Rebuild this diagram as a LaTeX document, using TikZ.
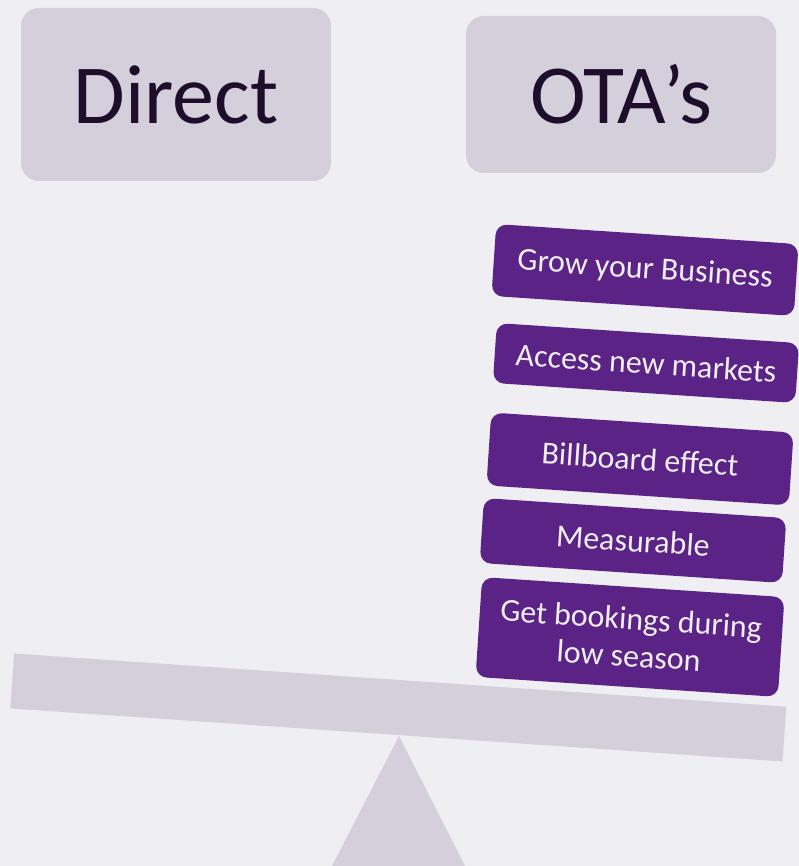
\documentclass[tikz,border=0pt]{standalone}
\usepackage{fontspec}
\setmainfont{Carlito}
\definecolor{pagebg}{HTML}{EFEEF3}
\definecolor{paleplum}{HTML}{D5CFDC}
\definecolor{deepplum}{HTML}{5B2385}
\definecolor{inkplum}{HTML}{1E0E2C}

\begin{document}
\begin{tikzpicture}[x=1pt, y=-1pt,
  heading/.style = {rectangle, fill=paleplum, rounded corners=18pt, minimum width=310pt,
                    text=inkplum, font=\fontsize{84pt}{100pt}\selectfont},
  benefit/.style = {rectangle, fill=deepplum, rounded corners=11pt, minimum width=303pt,
                    inner sep=0pt, align=center, rotate=-3.8, text=pagebg,
                    font=\fontsize{32pt}{37pt}\selectfont}]
  % Background.
  \useasboundingbox [fill=pagebg] (0, 0) rectangle (799, 866);

  % Headings.
  \node at (176, 94.5) [heading, minimum height=173pt, name=Direct] {Direct};
  \node at (621, 94.5) [heading, minimum height=157pt, name=OTAs] {OTA’s};

  % Pivot and beam.
  \fill [paleplum] (399, 736) -- (465, 866) -- (332, 866) -- cycle;
  \node at (398.3, 707.5) [rectangle, fill=paleplum, minimum width=774pt, minimum height=55pt,
                           inner sep=0pt, rotate=-3.93, name=Beam] {};

  % Benefits.
  \node at (645, 270) [benefit, minimum height=72pt, name=Grow] {Grow your Business};
  \node at (646, 363) [benefit, minimum height=60pt, name=Markets] {Access new markets};
  \node at (640, 459) [benefit, minimum height=73pt, name=Billboard] {Billboard effect};
  \node at (633, 540.5) [benefit, minimum height=65pt, name=Measurable] {Measurable};
  \node at (630, 637) [benefit, minimum height=100pt, name=LowSeason] {Get bookings during\\low season};
\end{tikzpicture}
\end{document}
